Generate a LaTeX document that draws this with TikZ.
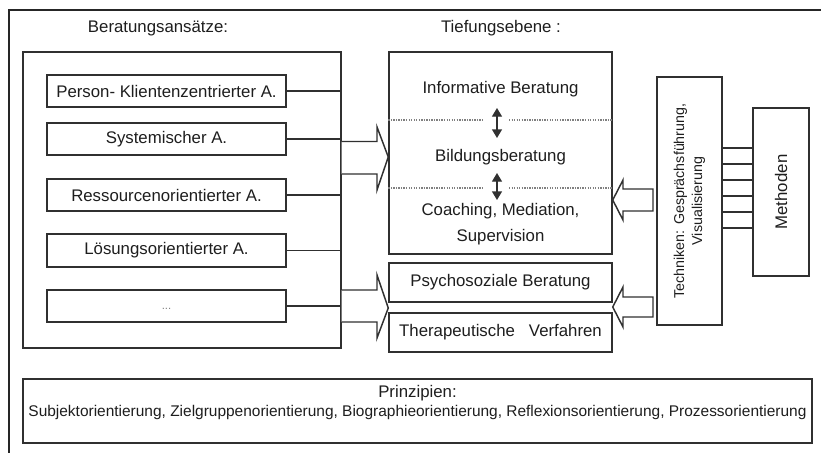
\documentclass[tikz,border=0pt]{standalone}
\usepackage{fontspec}
\setmainfont{Liberation Sans}
\usetikzlibrary{fit,arrows.meta}
\definecolor{linec}{HTML}{303030}
\definecolor{txt}{HTML}{1E1E1E}
\newcommand\fsbox{\fontsize{12.6}{14}\selectfont}
\begin{document}
\begin{tikzpicture}[x=0.75pt,y=-0.75pt,
  bx/.style={draw=linec, line width=1.1pt, inner sep=0pt},
  lab/.style={inner sep=0pt, text=txt, font=\fsbox},
  conn/.style={draw=linec, line width=1.1pt},
  blockarrow/.style={draw=linec, line width=1.1pt, fill=white, line join=miter},
  dots/.style={draw=gray, line width=0.8pt, dash pattern=on 1pt off 0.9pt},
  dbl/.style={draw=linec, line width=1pt, {Triangle[width=7.5pt,length=6.5pt]}-{Triangle[width=7.5pt,length=6.5pt]}},
]
\useasboundingbox (0,0) rectangle (821,453);
\fill[white] (0,0) rectangle (821,453);
\clip (0,0) rectangle (821,453);
\draw[draw=black!85, line width=1.6pt] (9,470) -- (9,10) -- (840,10);

% headings
\node[lab] (hberat) at (158,28) {Beratungsansätze:};
\node[lab] (htief) at (501,28) {Tiefungsebene :};

% left group
\node[bx, fit={(23,52)(341,348)}] (ansatz) {};
\node[bx, fit={(47,75)(286,107)}, label={[lab]center:Person- Klientenzentrierter A.}] (person) {};
\node[bx, fit={(47,123)(286,155)}, label={[lab]center:Systemischer A.}] (system) {};
\node[bx, fit={(47,179)(286,211)}, label={[lab]center:Ressourcenorientierter A.}] (ressource) {};
\node[bx, fit={(47,234)(286,267)}, label={[lab]center:Lösungsorientierter A.}] (loesung) {};
\node[bx, fit={(47,290)(286,322)}, label={[lab, text=gray, font=\fontsize{8.5}{9}\selectfont, yshift=-2pt]center:...}] (etc) {};
\foreach \n in {person,system,ressource,loesung,etc}
  \draw[conn] (\n.east) -- (\n.east -| ansatz.east);

% middle group
\node[bx, fit={(389,52)(612,254)}] (tief) {};
\node[lab] (info) at (500.5,89) {Informative Beratung};
\node[lab] (bild) at (500.5,157) {Bildungsberatung};
\node[lab, align=center, font=\fontsize{12.6}{20}\selectfont] (coach) at (500.5,224) {Coaching, Mediation,\\Supervision};
\draw[dots] (tief.west |- 0,120) -- (483,120);
\draw[dots] (509,120) -- (tief.east |- 0,120);
\draw[dots] (tief.west |- 0,188) -- (483,188);
\draw[dots] (509,188) -- (tief.east |- 0,188);
\draw[dbl] (497,108) -- (497,138);
\draw[dbl] (497,173) -- (497,200);

\node[bx, fit={(389,263)(612,302)}, label={[lab]center:Psychosoziale Beratung}] (psych) {};
\node[bx, fit={(389,313)(612,352)}, label={[lab]center:Therapeutische\hspace{10.5pt}Verfahren}] (thera) {};

% right group
\node[bx, fit={(657,77)(722,325)}] (tech) {};
\node[lab, rotate=90, align=center, font=\fontsize{10.7}{13.5}\selectfont] (techtxt) at (tech.center) {Techniken: Gesprächsführung,\\Visualisierung};
\node[bx, fit={(753,108)(809,276)}] (meth) {};
\node[lab, rotate=90] (methtxt) at (meth.center) {Methoden};
\foreach \y in {148,164,180,196,212,228}
  \draw[conn] (tech.east |- 0,\y) -- (meth.west |- 0,\y);

% block arrows
\draw[blockarrow] (ansatz.east |- 0,141.5) -- (377,141.5) -- (377,127) -- (tief.west |- 0,157) -- (377,190) -- (377,174) -- (ansatz.east |- 0,174);
\draw[blockarrow] (ansatz.east |- 0,290) -- (377,290) -- (377,275) -- (psych.west |- 0,308) -- (377,338) -- (377,322) -- (ansatz.east |- 0,322);
\draw[blockarrow] (tief.east |- 0,200) -- (623,180) -- (623,189) -- (653,189) -- (653,211) -- (623,211) -- (623,220) -- cycle;
\draw[blockarrow] (psych.east |- 0,307) -- (623,287) -- (623,297) -- (653,297) -- (653,317) -- (623,317) -- (623,327) -- cycle;

% principles
\node[bx, fit={(23,379)(812,443)}] (prinz) {};
\node[lab] (prtitle) at (417.5,393) {Prinzipien:};
\node[lab, font=\fontsize{11.6}{13}\selectfont] (prtext) at (417.5,412) {Subjektorientierung, Zielgruppenorientierung, Biographieorientierung, Reflexionsorientierung, Prozessorientierung};
\end{tikzpicture}
\end{document}
